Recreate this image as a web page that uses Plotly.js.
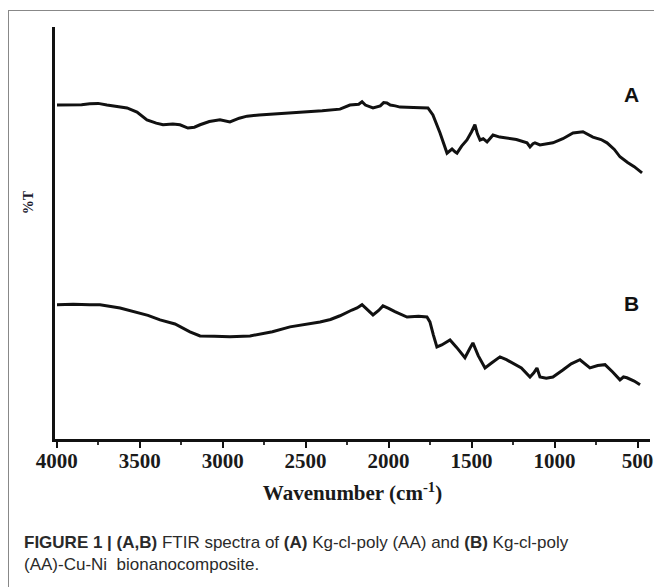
<!DOCTYPE html>
<html>
<head>
<meta charset="utf-8">
<script src="https://cdn.plot.ly/plotly-3.0.1.min.js"></script>
<style>
html,body{margin:0;padding:0;background:#fff;}
#wrap{position:relative;width:654px;height:587px;overflow:hidden;}
#frame{position:absolute;left:8px;top:10px;width:700px;height:700px;border-left:1px solid #888;border-top:1px solid #888;pointer-events:none;}
#chart{position:absolute;left:0;top:0;width:654px;height:587px;}
</style>
</head>
<body>
<div id="wrap">
<div id="chart"></div>
<div id="frame"></div>
</div>
<script>
// Spectrum A: Kg-cl-poly (AA)
const wnA = [3998,3900,3850,3800,3750,3697,3620,3576,3516,3456,3400,3359,3300,3257,3209,3170,3136,3080,3016,2956,2900,2853,2780,2697,2600,2492,2400,2293,2233,2180,2160,2140,2094,2050,2030,2010,1990,1960,1931,1850,1763,1733,1690,1648,1618,1600,1588,1560,1528,1500,1480,1465,1449,1430,1407,1390,1371,1330,1287,1230,1166,1148,1130,1118,1088,1050,1010,950,889,829,769,720,684,640,606,560,520,473];
const tA  = [81.0,81.0,81.1,81.3,81.4,81.0,80.6,80.3,79.3,77.4,76.6,76.2,76.4,76.2,75.4,75.6,76.2,77.0,77.4,76.9,77.8,78.3,78.6,78.8,79.0,79.3,79.6,80.0,81.0,81.2,81.8,81.0,80.3,80.8,81.6,81.5,81.0,80.8,80.5,80.4,80.3,78.6,74.2,69.3,70.3,69.6,69.3,71.0,72.5,74.5,76.2,74.0,72.5,72.8,72.0,72.8,73.7,73.2,73.0,72.6,71.8,70.8,71.6,71.8,71.3,71.6,71.8,72.8,74.2,74.5,73.2,72.6,71.8,70.2,68.4,67.0,66.0,64.5];

// Spectrum B: Kg-cl-poly (AA)-Cu-Ni bionanocomposite
const wnB = [3998,3900,3800,3739,3618,3528,3450,3377,3287,3197,3136,3050,2956,2835,2700,2594,2500,2413,2350,2293,2221,2190,2160,2120,2094,2060,2034,2000,1962,1889,1820,1769,1751,1730,1709,1680,1630,1590,1540,1510,1492,1460,1419,1380,1329,1290,1251,1200,1148,1125,1106,1088,1050,1010,950,900,847,787,740,696,650,606,585,564,520,485];
const tB  = [32.4,32.5,32.4,32.4,31.6,30.7,29.8,28.7,27.7,25.8,24.8,24.7,24.6,24.8,25.8,27.0,27.6,28.2,28.8,29.7,31.1,31.6,32.4,31.0,29.9,31.0,32.1,31.5,30.7,29.4,29.6,29.4,28.2,25.0,22.1,22.6,23.8,22.0,19.5,21.8,23.1,20.0,17.0,18.2,19.7,19.0,18.2,17.0,14.8,15.8,17.0,14.8,14.5,14.8,16.5,18.0,19.0,17.0,17.6,17.8,16.0,14.1,14.8,14.6,13.8,12.9];

const xTicks = [4000,3500,3000,2500,2000,1500,1000,500];
const xTickText = ['4000','3500','3000','2500','2000','1500','1000','500'];
const xMinorTicks = [3750,3250,2750,2250,1750,1250,750];
const seriesLabels = ['A','B'];

const lineStyle = {color:'#111', width:3};
const data = [
  {x:wnA, y:tA, type:'scatter', mode:'lines', line:lineStyle, hoverinfo:'skip', showlegend:false},
  {x:wnB, y:tB, type:'scatter', mode:'lines', line:lineStyle, hoverinfo:'skip', showlegend:false}
];

const serif = 'Liberation Serif, Times New Roman, serif';
const sans = 'Liberation Sans, Arial, sans-serif';

const layout = {
  width:654, height:587,
  margin:{l:55, r:4, t:27, b:148},
  paper_bgcolor:'rgba(0,0,0,0)', plot_bgcolor:'rgba(0,0,0,0)',
  xaxis:{
    range:[4010,425], showgrid:false, zeroline:false,
    showline:true, linecolor:'#111', linewidth:3,
    tickmode:'array', tickvals:xTicks, ticktext:xTickText,
    ticks:'outside', ticklen:6, tickwidth:2, tickcolor:'#111',
    ticklabelstandoff:-5,
    minor:{tickmode:'array', tickvals:xMinorTicks, ticks:'outside', ticklen:3, tickwidth:1.5, tickcolor:'#333', showgrid:false},
    tickfont:{family:serif, size:21, color:'#1a1a1a', weight:'bold'},
    title:{text:'<b>Wavenumber (cm<sup>-1</sup>)</b>', font:{family:serif, size:21, color:'#1a1a1a'}, standoff:14}
  },
  yaxis:{
    range:[-0.3,100], showgrid:false, zeroline:false,
    showline:true, linecolor:'#111', linewidth:3,
    showticklabels:false, ticks:''
  },
  annotations:[
    {xref:'paper', yref:'paper', x:-0.045, y:0.575, xanchor:'center', yanchor:'middle', textangle:-90,
     text:'<b>%T</b>', showarrow:false, font:{family:serif, size:14, color:'#1a1a2e'}},
    {xref:'x', yref:'y', x:534, y:83.5, text:'<b>'+seriesLabels[0]+'</b>', showarrow:false, font:{family:sans, size:21, color:'#111'}},
    {xref:'x', yref:'y', x:534, y:32.8, text:'<b>'+seriesLabels[1]+'</b>', showarrow:false, font:{family:sans, size:21, color:'#111'}},
    {xref:'paper', yref:'paper', x:-0.056, xanchor:'left', y:-0.25, yanchor:'middle', showarrow:false, align:'left',
     text:'<b>FIGURE 1 | (A,B)</b> FTIR spectra of <b>(A)</b> Kg-cl-poly (AA) and <b>(B)</b> Kg-cl-poly',
     font:{family:sans, size:17, color:'#2a2a2a'}},
    {xref:'paper', yref:'paper', x:-0.056, xanchor:'left', y:-0.305, yanchor:'middle', showarrow:false, align:'left',
     text:'(AA)-Cu-Ni  bionanocomposite.',
     font:{family:sans, size:17, color:'#2a2a2a'}}
  ]
};

Plotly.newPlot('chart', data, layout, {displayModeBar:false, staticPlot:true});
</script>
</body>
</html>
